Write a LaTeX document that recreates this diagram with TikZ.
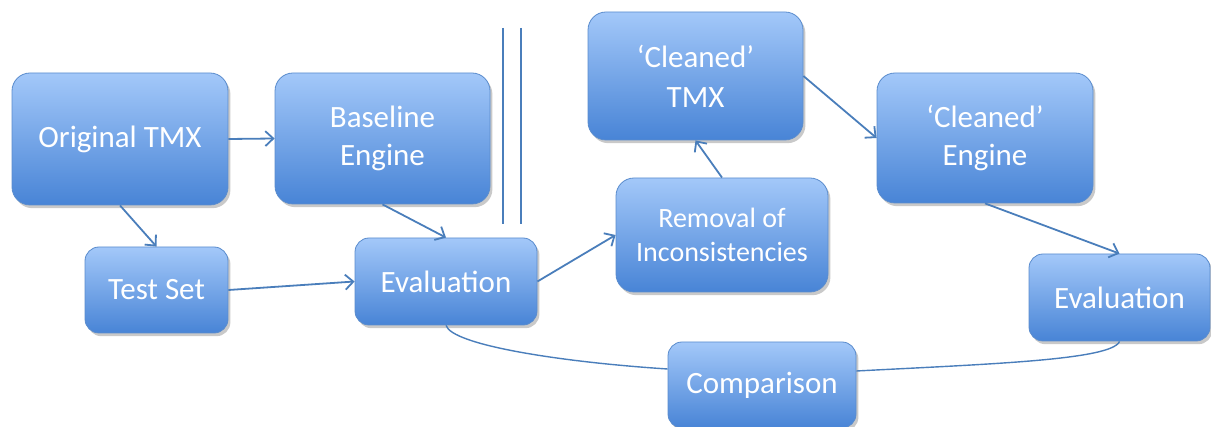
\documentclass[tikz,border=0pt]{standalone}
\usepackage{fontspec}
\setmainfont{Carlito}
\usetikzlibrary{arrows.meta,shadows}
\definecolor{boxtop}{RGB}{163,200,249}
\definecolor{boxbot}{RGB}{72,132,214}
\definecolor{boxedge}{RGB}{90,140,205}
\definecolor{linec}{RGB}{74,126,187}
\tikzset{
  box/.style={rounded corners=9pt, top color=boxtop, bottom color=boxbot,
    draw=boxedge, line width=0.4pt, text=white, align=center, inner sep=0pt,
    font=\fontsize{15.5}{19}\selectfont,
    drop shadow={shadow xshift=1.2pt, shadow yshift=-1.6pt, opacity=0.3, fill=black!70}},
  smallbox/.style={box, rounded corners=7pt},
  conn/.style={draw=linec, line width=0.9pt, -{Straight Barb[length=4pt,width=7.5pt]}},
  link/.style={draw=linec, line width=0.7pt},
}
\begin{document}
\begin{tikzpicture}[x=0.5pt,y=-0.5pt]
\useasboundingbox (0,0) rectangle (1211,427);
% nodes
\node[box, minimum width=108pt, minimum height=66pt] (orig) at (120,139) {Original TMX};
\node[box, minimum width=107.5pt, minimum height=65.5pt] (base) at (382.5,138.5) {Baseline\\Engine};
\node[smallbox, minimum width=71.5pt, minimum height=43pt] (test) at (156.5,290) {Test Set};
\node[smallbox, minimum width=91pt, minimum height=43.5pt] (evalA) at (446,281.5) {Evaluation};
\node[box, minimum width=107.5pt, minimum height=64pt, font=\fontsize{15.5}{20}\selectfont] (ctmx) at (695.5,76) {‘Cleaned’\\TMX};
\node[box, minimum width=106pt, minimum height=57pt, font=\fontsize{14}{17}\selectfont] (remov) at (722,235) {Removal of\\Inconsistencies};
\node[box, minimum width=108pt, minimum height=65pt] (ceng) at (985,138) {‘Cleaned’\\Engine};
\node[smallbox, minimum width=90.5pt, minimum height=43.5pt] (evalB) at (1119.5,297.5) {Evaluation};
\node[smallbox, minimum width=94pt, minimum height=43pt] (comp) at (762,385) {Comparison};
% separator
\coordinate (s1t) at (503,28); \coordinate (s1b) at (503,224);
\coordinate (s2t) at (521,28); \coordinate (s2b) at (521,224);
\draw[link, line width=0.8pt] (s1t) -- (s1b);
\draw[link, line width=0.8pt] (s2t) -- (s2b);
% connectors
\draw[conn] (orig.east) -- (base.west);
\draw[conn] (orig.south) -- (test.north);
\draw[conn] (base.south) -- (evalA.north);
\draw[conn] (test.east) -- (evalA.west);
\draw[conn] (evalA.east) -- (remov.west);
\draw[conn] (remov.north) -- (ctmx.south);
\draw[conn] (ctmx.east) -- (ceng.west);
\draw[conn] (ceng.south) -- (evalB.north);
\draw[link] (evalA.south) .. controls (452,345) and (560,362) .. ([yshift=8pt]comp.west);
\draw[link] (evalB.south) .. controls (1112,360) and (990,364) .. ([yshift=7pt]comp.east);
\end{tikzpicture}
\end{document}
